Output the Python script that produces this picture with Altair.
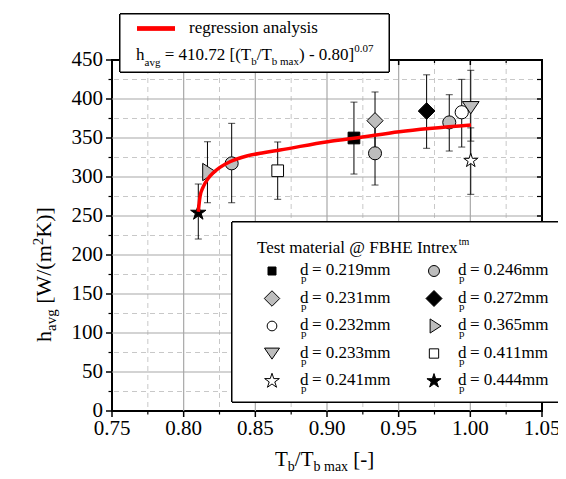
import altair as alt
import pandas as pd

# ---------------- data ----------------
series = ["0.219", "0.231", "0.232", "0.233", "0.241",
          "0.246", "0.272", "0.365", "0.411", "0.444"]

pt_series = ["0.444", "0.365", "0.246", "0.411", "0.219", "0.231",
             "0.246", "0.272", "0.246", "0.232", "0.233", "0.241"]
pt_x = [0.8102, 0.8166, 0.8335, 0.8656, 0.9188, 0.9335,
        0.9335, 0.9695, 0.9853, 0.9940, 1.0003, 1.0003]
pt_y = [254.2, 306.4, 317.5, 308.0, 350.0, 372.2,
        330.4, 384.6, 370.0, 383.0, 389.0, 321.0]
pt_lo = [220.5, 267.0, 267.0, 271.4, 303.8, 335.0,
         289.7, 336.8, 333.3, 338.4, 346.0, 277.8]
pt_hi = [291.0, 345.2, 368.8, 344.9, 396.0, 409.0,
         370.0, 431.0, 405.5, 425.2, 436.8, 363.0]

fit_x = [0.8102, 0.8114, 0.8137, 0.8172, 0.8207, 0.8253, 0.8323,
         0.8440, 0.8556, 0.8672, 0.9005, 0.9188, 0.9504, 1.0005]
fit_y = [255.5, 274.7, 287.6, 298.3, 305.5, 312.4, 319.6,
         326.9, 331.2, 334.6, 345.3, 349.6, 358.1, 366.7]

x_major = [0.75, 0.80, 0.85, 0.90, 0.95, 1.00, 1.05]
x_minor = [0.775, 0.825, 0.875, 0.925, 0.975, 1.025]
y_major = [0, 50, 100, 150, 200, 250, 300, 350, 400, 450]
y_minor = [25, 75, 125, 175, 225, 275, 325, 375, 425]

legend_col1 = ["0.219", "0.231", "0.232", "0.233", "0.241"]
legend_col2 = ["0.246", "0.272", "0.365", "0.411", "0.444"]

# ---------------- styles ----------------
FONT = "Liberation Serif"
GRAY = "#bdbdbd"
STAR = ("M0,-1L0.2245,-0.309L0.951,-0.309L0.363,0.118L0.588,0.809L0,0.382"
        "L-0.588,0.809L-0.363,0.118L-0.951,-0.309L-0.2245,-0.309Z")
TRI_R = "M-0.55,-1L1,0L-0.55,1Z"
TRI_D = "M-1,-0.72L1,-0.72L0,0.75Z"
# shape, fill, plot size, legend size
style = {
    "0.219": ("square", "black", 137, 64),
    "0.231": ("diamond", GRAY, 260, 240),
    "0.232": ("circle", "white", 175, 94),
    "0.233": (TRI_D, GRAY, 279, 225),
    "0.241": (STAR, "white", 216, 240),
    "0.246": ("circle", GRAY, 170, 121),
    "0.272": ("diamond", "black", 279, 256),
    "0.365": (TRI_R, GRAY, 300, 200),
    "0.411": ("square", "white", 137, 87),
    "0.444": (STAR, "black", 260, 220),
}

W_PLOT, H_PLOT = 430, 351
xs = alt.Scale(domain=[0.75, 1.05], nice=False, zero=False)
ys = alt.Scale(domain=[0, 450], nice=False, zero=False)


def X(f):
    return alt.X(f, scale=xs, axis=None)


def Y(f):
    return alt.Y(f, scale=ys, axis=None)


# ---------------- tables ----------------
pts = pd.DataFrame({"s": pt_series, "x": pt_x, "y": pt_y, "lo": pt_lo, "hi": pt_hi})
pts["shape"] = [style[s][0] for s in pts["s"]]
pts["fill"] = [style[s][1] for s in pts["s"]]
pts["sz"] = [style[s][2] for s in pts["s"]]
fit = pd.DataFrame({"x": fit_x, "y": fit_y})
gx_major = pd.DataFrame({"v": x_major[1:-1]})
gx_minor = pd.DataFrame({"v": x_minor})
gy_major = pd.DataFrame({"v": y_major[1:-1]})
gy_minor = pd.DataFrame({"v": y_minor})
ax_x = pd.DataFrame({"v": x_major, "lab": [f"{v:.2f}" for v in x_major]})
ax_y = pd.DataFrame({"v": y_major, "lab": [f"{v:d}" for v in y_major]})

# text width helper (Times metrics)
EM = {" ": .25, "T": .611, "b": .5, "/": .278, "m": .778, "a": .444, "x": .5,
      "[": .333, "-": .333, "]": .333, "h": .5, "v": .5, "g": .5, ".": .25,
      "=": .564, "(": .333, ")": .333, "W": .944, "K": .722, "e": .444,
      "r": .333, "s": .389, "i": .278, "o": .5, "n": .5, "l": .278, "y": .5,
      "t": .278, "d": .5, "p": .5, "@": .921, "F": .556, "B": .667,
      "H": .722, "E": .611, "I": .333}


def tw(s, fs):
    return sum(EM.get(c, 0.5) for c in s) * fs


def pieces(x0, y0, parts, vertical=False):
    rows = []
    pos = 0.0
    for txt, fs, off in parts:
        lead = len(txt) - len(txt.lstrip(" "))
        pos += tw(" " * lead, fs)
        t = txt.strip(" ")
        if vertical:
            rows.append({"px": x0 + off, "py": y0 - pos, "t": t, "fs": fs})
        else:
            rows.append({"px": x0 + pos, "py": y0 + off, "t": t, "fs": fs})
        pos += tw(t, fs) + tw(" " * (len(txt) - len(txt.rstrip(" "))), fs)
    return rows


texts = []
# top legend
texts.append({"px": 77, "py": -27, "t": "regression analysis", "fs": 17})
texts += pieces(24, 0, [("h", 17, 0), ("avg", 11, 6), (" = 410.72 [(T", 17, 0),
                        ("b", 11, 5), ("/T", 17, 0), ("b max", 11, 5),
                        (") - 0.80]", 17, 0), ("0.07", 11, -8)])
# bottom legend
texts += pieces(145, 193, [("Test material @ FBHE Intrex", 17, 0), ("tm", 10, -8)])
for col, (sx, tx) in enumerate([(160, 188), (322, 346)]):
    items = legend_col1 if col == 0 else legend_col2
    for i, s in enumerate(items):
        base = 215 + 27.5 * i
        texts.append({"px": tx, "py": base, "t": "d", "fs": 17})
        texts.append({"px": tx + 1, "py": base + 7, "t": "p", "fs": 11})
        texts.append({"px": tx + 12, "py": base, "t": "= " + s + "mm", "fs": 17})
# x title
texts += pieces(163, 406, [("T", 21, 0), ("b", 14, 5), ("/T", 21, 0),
                           ("b max", 14, 5), (" [-]", 21, 0)])
txt_df = pd.DataFrame(texts)

ytitle = pd.DataFrame(pieces(-61, 282, [("h", 22, 0), ("avg", 15, 5), (" [W/(m", 22, 0),
                                        ("2", 15, -8), ("K)]", 22, 0)], vertical=True))

leg_rows = []
for col, sx in enumerate([160, 322]):
    items = legend_col1 if col == 0 else legend_col2
    for i, s in enumerate(items):
        leg_rows.append({"px": sx, "py": 211 + 27.5 * i, "shape": style[s][0],
                         "fill": style[s][1], "sz": style[s][3]})
leg_df = pd.DataFrame(leg_rows)

# ---------------- layers ----------------
grid_x_major = alt.Chart(gx_major).mark_rule(color="#a8a8a8", strokeWidth=1.2).encode(x=X("v:Q"))
grid_x_minor = alt.Chart(gx_minor).mark_rule(color="#c8c8c8", strokeWidth=1, strokeDash=[5, 4]).encode(
    x=X("v:Q"))
grid_y_major = alt.Chart(gy_major).mark_rule(color="#a8a8a8", strokeWidth=1.2).encode(y=Y("v:Q"))
grid_y_minor = alt.Chart(gy_minor).mark_rule(color="#c8c8c8", strokeWidth=1, strokeDash=[5, 4]).encode(
    y=Y("v:Q"))

tick_bottom_major = alt.Chart(ax_x).mark_rule(color="black", strokeWidth=1.5).encode(
    x=X("v:Q"), y=alt.value(H_PLOT), y2=alt.value(H_PLOT + 6))
tick_bottom_minor = alt.Chart(gx_minor).mark_rule(color="black", strokeWidth=1.2).encode(
    x=X("v:Q"), y=alt.value(H_PLOT), y2=alt.value(H_PLOT + 3.5))
tick_left_major = alt.Chart(ax_y).mark_rule(color="black", strokeWidth=1.5).encode(
    y=Y("v:Q"), x=alt.value(-6), x2=alt.value(0))
tick_left_minor = alt.Chart(gy_minor).mark_rule(color="black", strokeWidth=1.2).encode(
    y=Y("v:Q"), x=alt.value(-3.5), x2=alt.value(0))
tick_top_major = alt.Chart(gx_major).mark_rule(color="black", strokeWidth=1.5).encode(
    x=X("v:Q"), y=alt.value(0), y2=alt.value(5))
tick_top_minor = alt.Chart(gx_minor).mark_rule(color="black", strokeWidth=1.2).encode(
    x=X("v:Q"), y=alt.value(0), y2=alt.value(3))
tick_right_major = alt.Chart(gy_major).mark_rule(color="black", strokeWidth=1.5).encode(
    y=Y("v:Q"), x=alt.value(W_PLOT - 5), x2=alt.value(W_PLOT))
tick_right_minor = alt.Chart(gy_minor).mark_rule(color="black", strokeWidth=1.2).encode(
    y=Y("v:Q"), x=alt.value(W_PLOT - 5), x2=alt.value(W_PLOT))

x_labels = alt.Chart(ax_x).mark_text(align="center", baseline="alphabetic", font=FONT,
                                     fontSize=21, color="black").encode(
    x=X("v:Q"), y=alt.value(H_PLOT + 24), text="lab:N")
y_labels = alt.Chart(ax_y).mark_text(align="right", baseline="middle", font=FONT,
                                     fontSize=21, color="black").encode(
    y=Y("v:Q"), x=alt.value(-9), text="lab:N")

err = alt.Chart(pts).mark_rule(color="black", strokeWidth=1).encode(
    x=X("x:Q"), y=Y("lo:Q"), y2="hi:Q")
cap_lo = alt.Chart(pts).mark_tick(orient="horizontal", size=7, thickness=1, color="black").encode(
    x=X("x:Q"), y=Y("lo:Q"))
cap_hi = alt.Chart(pts).mark_tick(orient="horizontal", size=7, thickness=1, color="black").encode(
    x=X("x:Q"), y=Y("hi:Q"))

points = alt.Chart(pts).mark_point(filled=True, stroke="black", strokeWidth=1, opacity=1).encode(
    x=X("x:Q"), y=Y("y:Q"),
    shape=alt.Shape("shape:N", scale=None),
    fill=alt.Fill("fill:N", scale=None),
    size=alt.Size("sz:Q", scale=None))

curve = alt.Chart(fit).mark_line(color="#ff0000", strokeWidth=3.5, interpolate="monotone").encode(
    x=X("x:Q"), y=Y("y:Q"))

top_box = alt.Chart(ax_x).mark_rect(fill="white", stroke="black", strokeWidth=1).encode(
    x=alt.value(8), x2=alt.value(277), y=alt.value(-46), y2=alt.value(12))
top_line = alt.Chart(ax_x).mark_rule(color="#ff0000", strokeWidth=3.5).encode(
    x=alt.value(25), x2=alt.value(63), y=alt.value(-31.5))
bot_box = alt.Chart(ax_x).mark_rect(fill="white", stroke="black", strokeWidth=1).encode(
    x=alt.value(120), x2=alt.value(470), y=alt.value(162), y2=alt.value(342))

leg_symbols = alt.Chart(leg_df).mark_point(filled=True, stroke="black", strokeWidth=1, opacity=1).encode(
    x=alt.X("px:Q", scale=None), y=alt.Y("py:Q", scale=None),
    shape=alt.Shape("shape:N", scale=None),
    fill=alt.Fill("fill:N", scale=None),
    size=alt.Size("sz:Q", scale=None))

labels = alt.Chart(txt_df).mark_text(align="left", baseline="alphabetic", font=FONT, color="black").encode(
    x=alt.X("px:Q", scale=None), y=alt.Y("py:Q", scale=None),
    text="t:N", size=alt.Size("fs:Q", scale=None))

ylab = alt.Chart(ytitle).mark_text(align="left", baseline="alphabetic", font=FONT, color="black",
                                   angle=270).encode(
    x=alt.X("px:Q", scale=None), y=alt.Y("py:Q", scale=None),
    text="t:N", size=alt.Size("fs:Q", scale=None))

chart = alt.layer(
    grid_x_minor, grid_y_minor, grid_x_major, grid_y_major,
    tick_bottom_major, tick_bottom_minor, tick_left_major, tick_left_minor,
    tick_top_major, tick_top_minor, tick_right_major, tick_right_minor,
    x_labels, y_labels,
    err, cap_lo, cap_hi, points, curve,
    top_box, top_line, bot_box, leg_symbols, labels, ylab,
).properties(
    width=W_PLOT, height=H_PLOT,
    autosize=alt.AutoSizeParams(type="none"),
    padding={"left": 104, "top": 52, "right": 16, "bottom": 60},
    background="white",
).configure_view(stroke="black", strokeWidth=2)

chart.save("out.html", embed_options={"renderer": "svg", "actions": False})
